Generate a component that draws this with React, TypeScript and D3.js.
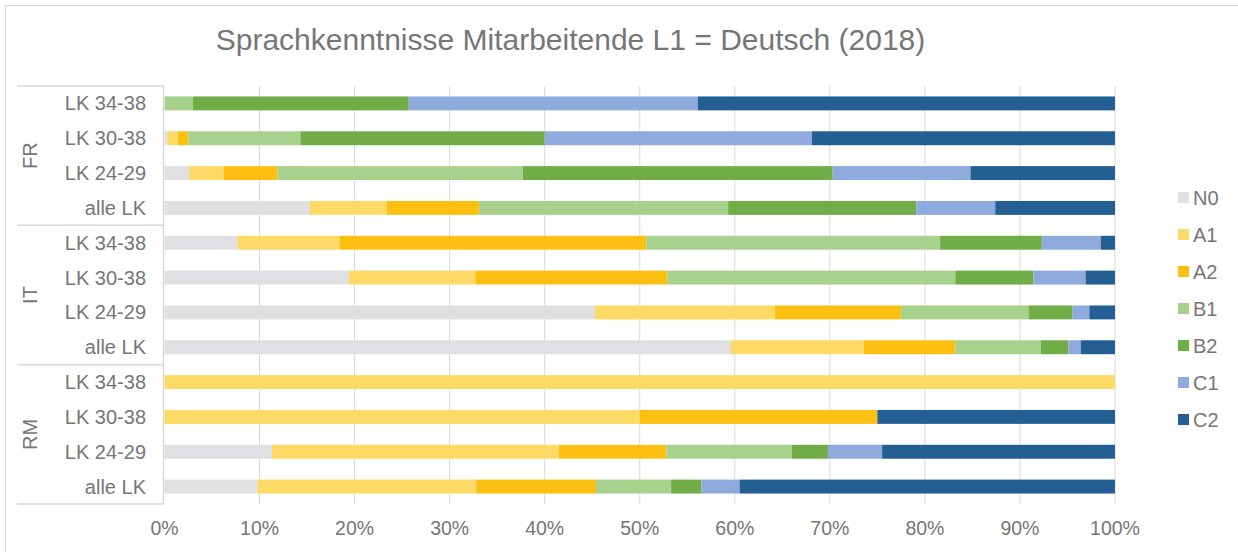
import React, { useEffect, useRef } from 'react';
import * as d3 from 'd3';

// levels (series) in stacking order
const levels = ['N0', 'A1', 'A2', 'B1', 'B2', 'C1', 'C2'];
const levelColors = ['#E0E0E2', '#FDD966', '#FCC013', '#A9D18E', '#70AD47', '#8FAADC', '#235F93'];

// category axis: outer groups and inner rows (top to bottom)
const groups = ['FR', 'IT', 'RM'];
const rowLabels = ['LK 34-38', 'LK 30-38', 'LK 24-29', 'alle LK'];

// percentages per level, 12 rows: FR x4, IT x4, RM x4
const N0 = [0, 0.3, 2.6, 15.3, 7.7, 19.4, 45.3, 59.6, 0, 0, 11.3, 9.8];
const A1 = [0, 1.1, 3.6, 8.1, 10.7, 13.3, 18.9, 14.0, 100, 50, 30.2, 23.0];
const A2 = [0, 1.1, 5.7, 9.7, 32.3, 20.2, 13.3, 9.6, 0, 25, 11.3, 12.6];
const B1 = [3.0, 11.8, 25.8, 26.2, 30.9, 30.3, 13.4, 9.0, 0, 0, 13.2, 7.9];
const B2 = [22.7, 25.7, 32.6, 19.8, 10.7, 8.2, 4.6, 2.9, 0, 0, 3.8, 3.2];
const C1 = [30.4, 28.1, 14.5, 8.3, 6.2, 5.5, 1.8, 1.3, 0, 0, 5.7, 4.0];
const C2 = [43.9, 31.9, 15.2, 12.6, 1.5, 3.1, 2.7, 3.6, 0, 25, 24.5, 39.5];

const xTicks = [0, 0.1, 0.2, 0.3, 0.4, 0.5, 0.6, 0.7, 0.8, 0.9, 1];

const title = 'Sprachkenntnisse Mitarbeitende L1 = Deutsch (2018)';

const App = () => {
    const ref = useRef<SVGSVGElement>(null);

    useEffect(() => {
        const width = 1238;
        const height = 552;
        const font = 'Arial, "Liberation Sans", sans-serif';
        const textColor = '#767676';
        const lineColor = '#D9D9D9';

        const plotLeft = 164.5;
        const plotRight = 1115;
        const plotTop = 86;
        const plotBottom = 504;
        const catLeft = 17;

        const svg = d3.select(ref.current);
        svg.selectAll('*').remove();

        svg.append('rect').attr('width', width).attr('height', height).attr('fill', '#fff');
        // chart frame (cut off on the right and bottom)
        svg
            .append('rect')
            .attr('x', 5.5)
            .attr('y', 5.5)
            .attr('width', 1400)
            .attr('height', 700)
            .attr('fill', 'none')
            .attr('stroke', lineColor)
            .attr('stroke-width', 1);

        const series = [N0, A1, A2, B1, B2, C1, C2];
        const rowKeys: string[] = [];
        groups.forEach((g) => rowLabels.forEach((r) => rowKeys.push(`${g}|${r}`)));

        const table = rowKeys.map((key, i) => {
            const row: any = { key };
            levels.forEach((lv, j) => (row[lv] = series[j][i]));
            return row;
        });

        const stacked = d3.stack().keys(levels).offset(d3.stackOffsetExpand)(table);

        const x = d3.scaleLinear().domain([0, 1]).range([plotLeft, plotRight]);
        const y = d3
            .scaleBand()
            .domain(rowKeys)
            .range([plotTop, plotBottom])
            .paddingInner(0.6)
            .paddingOuter(0.3);

        // vertical grid lines
        svg
            .append('g')
            .selectAll('line')
            .data(xTicks.slice(1))
            .enter()
            .append('line')
            .attr('x1', (d) => x(d))
            .attr('x2', (d) => x(d))
            .attr('y1', plotTop)
            .attr('y2', plotBottom)
            .attr('stroke', lineColor)
            .attr('stroke-width', 1);

        // bars
        svg
            .append('g')
            .selectAll('g')
            .data(stacked)
            .enter()
            .append('g')
            .attr('fill', (d, i) => levelColors[i])
            .selectAll('rect')
            .data((d) => d)
            .enter()
            .append('rect')
            .attr('x', (d) => x(d[0]))
            .attr('y', (d: any) => y(d.data.key) as number)
            .attr('width', (d) => Math.max(0, x(d[1]) - x(d[0])))
            .attr('height', y.bandwidth());

        // category axis line
        svg
            .append('line')
            .attr('x1', plotLeft - 1)
            .attr('x2', plotLeft - 1)
            .attr('y1', plotTop)
            .attr('y2', plotBottom)
            .attr('stroke', lineColor)
            .attr('stroke-width', 1.5);

        // group separators
        const groupH = (plotBottom - plotTop) / groups.length;
        svg
            .append('g')
            .selectAll('line')
            .data(d3.range(groups.length + 1))
            .enter()
            .append('line')
            .attr('x1', catLeft)
            .attr('x2', plotLeft - 1)
            .attr('y1', (d) => plotTop + d * groupH)
            .attr('y2', (d) => plotTop + d * groupH)
            .attr('stroke', lineColor)
            .attr('stroke-width', 1.5);

        // inner row labels
        svg
            .append('g')
            .selectAll('text')
            .data(rowKeys)
            .enter()
            .append('text')
            .attr('x', 146)
            .attr('y', (d) => (y(d) as number) + y.bandwidth() / 2)
            .attr('dy', '0.35em')
            .attr('text-anchor', 'end')
            .attr('font-family', font)
            .attr('font-size', 20)
            .attr('fill', textColor)
            .text((d) => d.split('|')[1]);

        // outer group labels (rotated)
        svg
            .append('g')
            .selectAll('text')
            .data(groups)
            .enter()
            .append('text')
            .attr('transform', (d, i) => `translate(30,${plotTop + (i + 0.5) * groupH}) rotate(-90)`)
            .attr('dy', '0.35em')
            .attr('text-anchor', 'middle')
            .attr('font-family', font)
            .attr('font-size', 20)
            .attr('fill', textColor)
            .text((d) => d);

        // value axis labels
        svg
            .append('g')
            .selectAll('text')
            .data(xTicks)
            .enter()
            .append('text')
            .attr('x', (d) => x(d))
            .attr('y', 535)
            .attr('text-anchor', 'middle')
            .attr('font-family', font)
            .attr('font-size', 19.5)
            .attr('fill', textColor)
            .text((d) => d3.format('.0%')(d));

        // legend
        const legend = svg
            .append('g')
            .selectAll('g')
            .data(levels)
            .enter()
            .append('g')
            .attr('transform', (d, i) => `translate(1178,${197.5 + i * 37})`);
        legend
            .append('rect')
            .attr('x', 0)
            .attr('y', -5.5)
            .attr('width', 11)
            .attr('height', 11)
            .attr('fill', (d, i) => levelColors[i]);
        legend
            .append('text')
            .attr('x', 15)
            .attr('dy', '0.35em')
            .attr('font-family', font)
            .attr('font-size', 20)
            .attr('fill', textColor)
            .text((d) => d);

        // title
        svg
            .append('text')
            .attr('x', 570.5)
            .attr('y', 50)
            .attr('text-anchor', 'middle')
            .attr('font-family', font)
            .attr('font-size', 30)
            .attr('fill', textColor)
            .text(title);
    }, []);

    return (
        <svg
            ref={ref}
            width={1238}
            height={552}
            style={{ position: 'absolute', left: 0, top: 0, display: 'block' }}
        />
    );
};

export default App;
